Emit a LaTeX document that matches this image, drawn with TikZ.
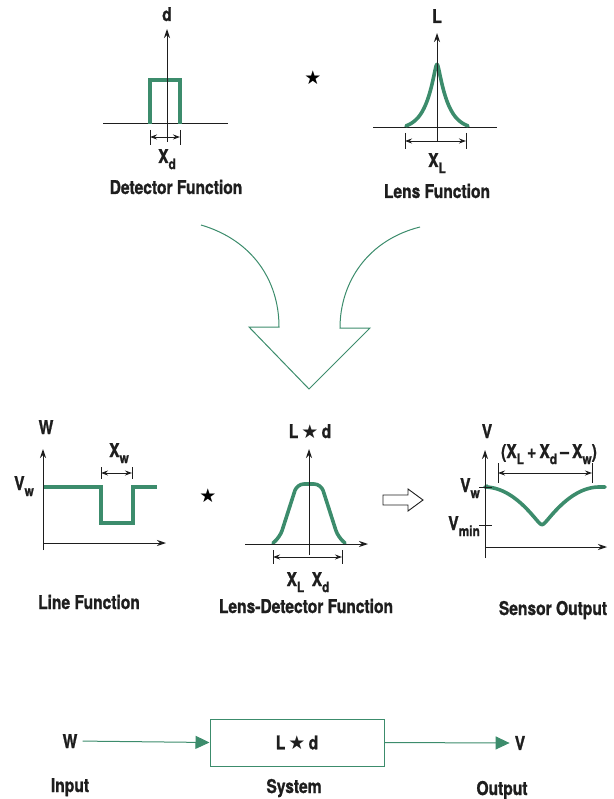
\documentclass[tikz,border=0pt]{standalone}
\usepackage{fontspec}
\setmainfont{TeX Gyre Heros}[FakeStretch=0.82, BoldFeatures={FakeBold=1.2}]
\newfontfamily\symfont{DejaVu Sans}
\usetikzlibrary{arrows.meta}
\definecolor{grn}{HTML}{3C8C6C}
\definecolor{ax}{HTML}{1E1E1E}
\newcommand\lsub[1]{\raisebox{-0.6ex}{\fontsize{14.5}{14.5}\selectfont #1}}
\newcommand\sstar{{\symfont\fontsize{19}{19}\selectfont ★}}
\begin{document}
\begin{tikzpicture}[x=1pt,y=-1pt,
  font=\fontsize{19}{21}\selectfont\bfseries,
  lbl/.style={inner sep=0pt, anchor=base, text=ax},
  axis/.style={draw=ax, line width=1pt, -{Stealth[length=9pt,width=6pt]}},
  base/.style={draw=ax, line width=1pt},
  curve/.style={draw=grn, line width=3.6pt, line join=round, line cap=round},
  dim/.style={draw=ax, line width=0.9pt, {Stealth[length=7pt,width=5pt]}-{Stealth[length=7pt,width=5pt]}},
  tickline/.style={draw=ax, line width=0.9pt},
  thin/.style={draw=grn, line width=1pt},
  flow/.style={draw=grn, line width=1pt, -{Triangle[length=14pt,width=13pt]}, fill=none}
]
\useasboundingbox (0,0) rectangle (613,799);

% ---------- Detector function ----------
\draw[base] (103,124) -- (228,124);
\draw[curve, line cap=butt, line join=miter] (150,124) -- (150,80) -- (180,80) -- (180,124);
\draw[axis] (167,142) -- (167,29);
\draw[tickline] (150,130) -- (150,145) (180,130) -- (180,145);
\draw[dim] (150,137) -- (180,137);
\node[lbl] (dlab) at (167,21) {d};
\node[lbl] (xdlab) at (167,163) {X\lsub{d}};
\node[lbl] (dettitle) at (176,194) {Detector Function};

\node[inner sep=0pt] (star1) at (313,78) {\sstar};

% ---------- Lens function ----------
\draw[base] (373,128) -- (497,128);
\draw[curve] plot[domain=-31:31, samples=125, smooth] ({437+\x},{126-71*(exp(-sqrt(\x*\x+2)/10.5)-0.05)/0.95});
\draw[axis] (437,142) -- (437,33);
\draw[tickline] (405,133) -- (405,149) (466,133) -- (466,149);
\draw[dim] (405,141) -- (466,141);
\node[lbl] (llab) at (437,23) {L};
\node[lbl] (xllab) at (437,167) {X\lsub{L}};
\node[lbl] (lenstitle) at (437,198) {Lens Function};

% ---------- Big merging arrow ----------
\draw[thin, line join=miter] (201,225) .. controls (252,240) and (279,280) .. (279,327)
  -- (249,327) -- (309,389) -- (370,328) -- (340,328)
  .. controls (340,282) and (368,240) .. (420,227);

% ---------- Line function ----------
\draw[curve, line cap=butt, line join=miter] (43,487) -- (101,487) -- (101,523) -- (133,523) -- (133,487) -- (157,487);
\draw[axis] (43,550) -- (43,449);
\draw[axis] (43,543) -- (166,543);
\draw[tickline] (101,467) -- (101,479) (132,467) -- (132,479);
\draw[dim] (101,473) -- (132,473);
\node[lbl] (wlab) at (46,434) {W};
\node[lbl] (xwlab) at (119,457) {X\lsub{w}};
\node[lbl] (vwlab1) at (24,490) {V\lsub{w}};
\node[lbl] (linetitle) at (89,609) {Line Function};

\node[inner sep=0pt] (star2) at (208,496) {\sstar};

% ---------- Lens-Detector function ----------
\draw[curve, rounded corners=7pt] (273,543) -- (280,537) -- (297,484) -- (321,484) -- (338,537) -- (345,543);
\draw[axis] (309,555) -- (309,449);
\draw[axis] (245,544) -- (368,544);
\draw[tickline] (273,550) -- (273,564) (342,550) -- (342,564);
\draw[dim] (273,557) -- (342,557);
\node[lbl] (ldlab) at (310,438) {L\,\sstar\,d};
\node[lbl] (xlxdlab) at (308,586) {X\lsub{L}\, X\lsub{d}};
\node[lbl] (ldtitle) at (306,613) {Lens-Detector Function};

% ---------- Hollow arrow ----------
\draw[draw=ax, line width=0.9pt, line join=miter] (383,495) -- (408,495) -- (408,489) -- (423,500) -- (408,511) -- (408,505) -- (383,505) -- cycle;

% ---------- Sensor output ----------
\draw[curve] (487,486) -- (487,486) plot[domain=-57:57, samples=115, smooth] ({542+\x},{487+41*(1-sqrt(\x*\x+6)/57.5)^2}) -- (605,487);
\draw[axis] (485,558) -- (485,450);
\draw[axis] (485,547) -- (607,547);
\draw[tickline] (479,487) -- (492,487) (479,525) -- (492,525);
\draw[tickline] (498,463) -- (498,483) (592,463) -- (592,483);
\draw[dim] (498,473) -- (592,473);
\node[lbl] (vlab) at (487,438) {V};
\node[lbl, anchor=base east] (vwlab2) at (480,492) {V\lsub{w}};
\node[lbl, anchor=base east] (vminlab) at (480,530) {V\lsub{min}};
\node[lbl] (difflab) at (549,458) {(X\lsub{L}\,+\,X\lsub{d}\,–\,X\lsub{w})};
\node[lbl] (sensortitle) at (553,615) {Sensor Output};

% ---------- Block diagram ----------
\node[lbl] (win) at (70,748) {W};
\node[draw=grn, line width=1pt, minimum width=174pt, minimum height=47pt, inner sep=0pt, text=ax] (sys) at (297,742.5) {L\,\sstar\,d};
\node[inner sep=0pt, text=ax] (vout) at (520,743) {V};
\draw[flow] ([xshift=5pt]win.east) -- (sys.west);
\draw[flow] (sys.east) -- ([xshift=-5pt]vout.west);
\node[lbl] (inlab) at (70,792) {Input};
\node[lbl] (syslab) at (294,793) {System};
\node[lbl] (outlab) at (502,795) {Output};
\end{tikzpicture}
\end{document}
